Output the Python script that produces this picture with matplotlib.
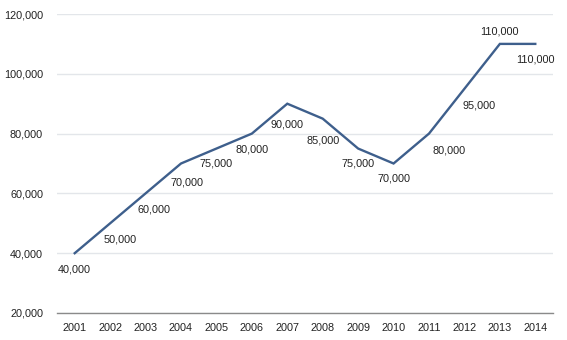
import matplotlib.pyplot as plt
from matplotlib.ticker import FuncFormatter

plt.rcParams['font.family'] = ['Liberation Sans', 'DejaVu Sans']

# 数据
years = ['2001', '2002', '2003', '2004', '2005', '2006', '2007',
         '2008', '2009', '2010', '2011', '2012', '2013', '2014']
values = [40000, 50000, 60000, 70000, 75000, 80000, 90000,
          85000, 75000, 70000, 80000, 95000, 110000, 110000]
y_ticks = [20000, 40000, 60000, 80000, 100000, 120000]

# 标签偏移 (像素)
label_dx = [0, 10, 8, 6, 0, 0, 0, 0, 0, 0, 20, 15, 0, 0]
label_dy = [-16, -16, -16, -19, -15, -16, -21, -22, -15, -15, -17, -17, 12, -16]

fig = plt.figure(figsize=(5.67, 3.40), dpi=100)
ax = fig.add_axes([57 / 567, 27 / 340, 496 / 567, 299 / 340])

x = list(range(len(years)))
ax.plot(x, values, color='#3e5f8c', linewidth=1.7, solid_joinstyle='miter', zorder=3)

for i, v in enumerate(values):
    ax.annotate(f'{v:,}', (x[i], v), xytext=(label_dx[i], label_dy[i]),
                textcoords='offset pixels', ha='center', va='center',
                fontsize=7.8, color='#222222')

ax.set_xlim(-0.5, len(years) - 0.5)
ax.set_ylim(20000, 120000)
ax.set_xticks(x)
ax.set_xticklabels(years)
ax.set_yticks(y_ticks)
ax.yaxis.set_major_formatter(FuncFormatter(lambda v, p: f'{int(v):,}'))
ax.tick_params(axis='both', length=0, labelsize=7.8, colors='#222222')
ax.tick_params(axis='x', pad=7)
ax.tick_params(axis='y', pad=10)

ax.grid(axis='y', color='#e3e6ea', linewidth=1)
ax.set_axisbelow(True)
for s in ['top', 'right', 'left']:
    ax.spines[s].set_visible(False)
ax.spines['bottom'].set_color('#8a8a8a')
ax.spines['bottom'].set_linewidth(1)

plt.savefig('out.png', dpi=100)
